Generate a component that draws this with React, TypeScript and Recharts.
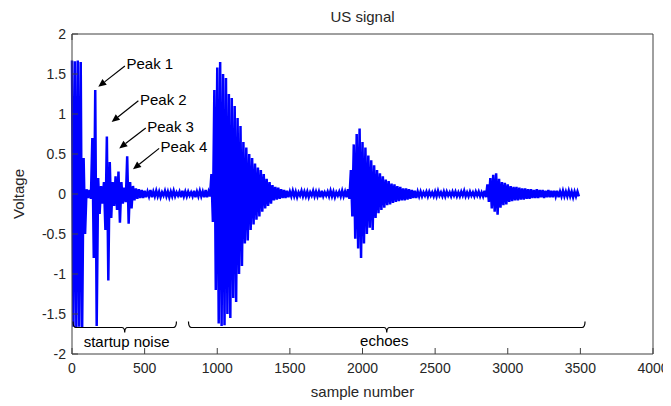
import React from 'react';
import { LineChart, Line, XAxis, YAxis, ReferenceLine, ReferenceDot } from 'recharts';

// ---- data ----
const xTicks = [0, 500, 1000, 1500, 2000, 2500, 3000, 3500, 4000];
const yTicks = [-2, -1.5, -1, -0.5, 0, 0.5, 1, 1.5, 2];
const binSamples = 20; // each bin: upper value at bin start, lower value half a bin later

const upper = [
  1.67, 1.66, 1.67, 1.65, 0.45, 0.06, 0.05, 0.70, 1.30, 0.20,
  0.10, 0.15, 0.72, 0.40, 0.15, 0.22, 0.28, 0.15, 0.08, 0.47,
  0.15, 0.10, 0.07, 0.06, 0.05, 0.04, 0.03, 0.05, 0.03, 0.04,
  0.03, 0.02, 0.04, 0.03, 0.03, 0.04, 0.02, 0.03, 0.04, 0.03,
  0.03, 0.02, 0.04, 0.03, 0.04, 0.03, 0.05, 0.03, 0.25, 1.30,
  1.58, 1.65, 1.50, 1.45, 1.25, 1.20, 1.10, 0.95, 0.85, 0.65,
  0.58, 0.50, 0.45, 0.38, 0.33, 0.30, 0.25, 0.19, 0.15, 0.11,
  0.09, 0.08, 0.06, 0.05, 0.04, 0.03, 0.04, 0.03, 0.02, 0.04,
  0.03, 0.03, 0.02, 0.04, 0.03, 0.03, 0.04, 0.02, 0.03, 0.04,
  0.03, 0.02, 0.03, 0.04, 0.03, 0.06, 0.30, 0.62, 0.75, 0.82,
  0.65, 0.58, 0.48, 0.42, 0.36, 0.30, 0.26, 0.22, 0.18, 0.16,
  0.13, 0.12, 0.10, 0.09, 0.07, 0.07, 0.06, 0.05, 0.04, 0.03,
  0.03, 0.02, 0.03, 0.03, 0.02, 0.03, 0.04, 0.02, 0.03, 0.03,
  0.02, 0.03, 0.03, 0.02, 0.03, 0.04, 0.02, 0.03, 0.02, 0.03,
  0.03, 0.02, 0.04, 0.12, 0.20, 0.24, 0.26, 0.19, 0.15, 0.14,
  0.12, 0.10, 0.09, 0.09, 0.08, 0.07, 0.07, 0.06, 0.06, 0.05,
  0.06, 0.05, 0.05, 0.04, 0.05, 0.04, 0.04, 0.04, 0.03, 0.04,
  0.03, 0.04, 0.03, 0.03, 0.03,
];

const lower = [
  -1.66, -1.67, -1.66, -1.67, -0.50, -0.05, -0.06, -0.80, -1.65, -0.25,
  -0.12, -0.45, -1.08, -0.30, -0.15, -0.20, -0.36, -0.12, -0.10, -0.37,
  -0.18, -0.08, -0.06, -0.05, -0.05, -0.04, -0.03, -0.04, -0.03, -0.03,
  -0.04, -0.02, -0.03, -0.04, -0.03, -0.03, -0.02, -0.04, -0.03, -0.03,
  -0.02, -0.03, -0.04, -0.03, -0.03, -0.04, -0.04, -0.03, -0.35, -1.20,
  -1.62, -1.65, -1.64, -1.50, -1.55, -1.30, -1.35, -1.00, -0.90, -0.62,
  -0.58, -0.45, -0.38, -0.32, -0.28, -0.22, -0.18, -0.15, -0.12, -0.08,
  -0.07, -0.06, -0.05, -0.05, -0.04, -0.03, -0.03, -0.04, -0.02, -0.03,
  -0.03, -0.04, -0.02, -0.03, -0.03, -0.04, -0.03, -0.02, -0.03, -0.03,
  -0.04, -0.02, -0.03, -0.03, -0.04, -0.06, -0.28, -0.56, -0.68, -0.80,
  -0.62, -0.50, -0.42, -0.45, -0.30, -0.24, -0.20, -0.17, -0.14, -0.13,
  -0.11, -0.10, -0.09, -0.08, -0.08, -0.07, -0.06, -0.05, -0.05, -0.03,
  -0.03, -0.02, -0.03, -0.02, -0.03, -0.03, -0.02, -0.03, -0.03, -0.02,
  -0.03, -0.02, -0.03, -0.03, -0.02, -0.03, -0.03, -0.02, -0.03, -0.02,
  -0.03, -0.03, -0.04, -0.10, -0.18, -0.22, -0.26, -0.17, -0.14, -0.13,
  -0.10, -0.09, -0.08, -0.08, -0.07, -0.07, -0.06, -0.06, -0.05, -0.05,
  -0.05, -0.04, -0.05, -0.04, -0.04, -0.04, -0.03, -0.04, -0.03, -0.03,
  -0.03, -0.03, -0.04, -0.03, -0.03,
];

// annotations (data coordinates: sample, voltage)
const peakLabels = ['Peak 1', 'Peak 2', 'Peak 3', 'Peak 4'];
const peakTextAt = [[375, 1.63], [468, 1.18], [518, 0.84], [610, 0.59]];
const peakArrowFrom = [[364, 1.6], [457, 1.165], [508, 0.825], [600, 0.57]];
const peakArrowTo = [[181, 1.34], [273, 0.9], [325, 0.57], [420, 0.31]];

const braceLabels = ['startup noise', 'echoes'];
const braceFrom = [7, 802];
const braceTo = [719, 3532];
const braceLevel = -1.669;
const braceTextAt = [[376, -1.845], [2150, -1.83]];

const signal = upper.flatMap((u, i) => [
  { s: i * binSamples, v: u },
  { s: i * binSamples + binSamples / 2, v: lower[i] },
]);

const FONT = '"Liberation Sans", Arial, Helvetica, sans-serif';
const TXT = '#262626';
const FRAME = '#404040';
const TL = 6;

const BottomTick = (p: any) => (
  <g>
    <line x1={p.x} y1={p.y} x2={p.x} y2={p.y - TL} stroke={FRAME} strokeWidth={1} />
    <text x={p.x} y={p.y + 19} textAnchor="middle" fontSize={14} fontFamily={FONT} fill={TXT}>
      {p.payload.value}
    </text>
  </g>
);
const TopTick = (p: any) => (
  <line x1={p.x} y1={p.y} x2={p.x} y2={p.y + TL} stroke={FRAME} strokeWidth={1} />
);
const LeftTick = (p: any) => (
  <g>
    <line x1={p.x} y1={p.y} x2={p.x + TL} y2={p.y} stroke={FRAME} strokeWidth={1} />
    <text x={p.x - 6} y={p.y} dy="0.36em" textAnchor="end" fontSize={14} fontFamily={FONT} fill={TXT}>
      {p.payload.value}
    </text>
  </g>
);
const RightTick = (p: any) => (
  <line x1={p.x} y1={p.y} x2={p.x - TL} y2={p.y} stroke={FRAME} strokeWidth={1} />
);

const Arrow = (p: any) => {
  const { x1, y1, x2, y2 } = p;
  const dx = x2 - x1;
  const dy = y2 - y1;
  const len = Math.hypot(dx, dy) || 1;
  const ux = dx / len;
  const uy = dy / len;
  const L = 8;
  const W = 3.5;
  const bx = x2 - ux * L;
  const by = y2 - uy * L;
  return (
    <g>
      <line x1={x1} y1={y1} x2={bx} y2={by} stroke="#000" strokeWidth={1.2} />
      <polygon
        points={`${x2},${y2} ${bx - uy * W},${by + ux * W} ${bx + uy * W},${by - ux * W}`}
        fill="#000"
      />
    </g>
  );
};

const Brace = (p: any) => {
  const { x1, x2, y1 } = p;
  const xc = (x1 + x2) / 2;
  const h = 6;
  const r = 3;
  const d = `M${x1},${y1 - h} Q${x1},${y1} ${x1 + r},${y1} L${xc - r},${y1} Q${xc},${y1} ${xc},${y1 + 5} Q${xc},${y1} ${xc + r},${y1} L${x2 - r},${y1} Q${x2},${y1} ${x2},${y1 - h}`;
  return <path d={d} stroke="#000" strokeWidth={1.2} fill="none" />;
};

const makeText = (label: string, anchor: string) => (p: any) => (
  <text x={p.cx} y={p.cy} dy="0.36em" textAnchor={anchor} fontSize={15} fontFamily={FONT} fill="#000">
    {label}
  </text>
);

export default function App() {
  return (
    <div style={{ width: 663, height: 398 }}>
      <LineChart
        width={663}
        height={398}
        data={signal}
        margin={{ top: 25, right: 17, bottom: 0, left: 4 }}
      >
        <XAxis
          dataKey="s"
          type="number"
          domain={[0, 4000]}
          ticks={xTicks}
          interval={0}
          height={52}
          tickSize={0}
          tickMargin={0}
          tickLine={false}
          axisLine={{ stroke: FRAME }}
          tick={(p: any) => <BottomTick {...p} />}
          label={{
            content: (lp: any) => {
              const vb = lp.viewBox;
              return (
                <text x={vb.x + vb.width / 2} y={vb.y + 43} textAnchor="middle" fontSize={15} fontFamily={FONT} fill={TXT}>
                  sample number
                </text>
              );
            },
          }}
        />
        <XAxis
          xAxisId="top"
          orientation="top"
          type="number"
          domain={[0, 4000]}
          ticks={xTicks}
          interval={0}
          height={1}
          tickSize={0}
          tickMargin={0}
          tickLine={false}
          axisLine={{ stroke: FRAME }}
          tick={(p: any) => <TopTick {...p} />}
          label={{
            content: (lp: any) => {
              const vb = lp.viewBox;
              return (
                <text x={vb.x + vb.width / 2} y={14} textAnchor="middle" fontSize={15} fontFamily={FONT} fill={TXT}>
                  US signal
                </text>
              );
            },
          }}
        />
        <YAxis
          type="number"
          domain={[-2, 2]}
          ticks={yTicks}
          interval={0}
          width={60}
          tickSize={0}
          tickMargin={0}
          tickLine={false}
          axisLine={{ stroke: FRAME }}
          tick={(p: any) => <LeftTick {...p} />}
          label={{
            content: (lp: any) => {
              const vb = lp.viewBox;
              const cx = 11;
              const cy = vb.y + vb.height / 2;
              return (
                <text x={cx} y={cy} dy="0.36em" textAnchor="middle" fontSize={15} fontFamily={FONT} fill={TXT} transform={`rotate(-90 ${cx} ${cy})`}>
                  Voltage
                </text>
              );
            },
          }}
        />
        <YAxis
          yAxisId="right"
          orientation="right"
          type="number"
          domain={[-2, 2]}
          ticks={yTicks}
          interval={0}
          width={1}
          tickSize={0}
          tickMargin={0}
          tickLine={false}
          axisLine={{ stroke: FRAME }}
          tick={(p: any) => <RightTick {...p} />}
        />
        <Line
          dataKey="v"
          type="linear"
          stroke="#0000ff"
          strokeWidth={2.5}
          strokeLinejoin="miter"
          dot={false}
          activeDot={false}
          isAnimationActive={false}
        />
        {peakLabels.map((lab, i) => (
          <ReferenceLine
            key={'a' + i}
            segment={[
              { x: peakArrowFrom[i][0], y: peakArrowFrom[i][1] },
              { x: peakArrowTo[i][0], y: peakArrowTo[i][1] },
            ]}
            shape={(p: any) => <Arrow {...p} />}
          />
        ))}
        {peakLabels.map((lab, i) => (
          <ReferenceDot
            key={'t' + i}
            x={peakTextAt[i][0]}
            y={peakTextAt[i][1]}
            r={0}
            shape={makeText(lab, 'start')}
          />
        ))}
        {braceLabels.map((lab, i) => (
          <ReferenceLine
            key={'b' + i}
            segment={[
              { x: braceFrom[i], y: braceLevel },
              { x: braceTo[i], y: braceLevel },
            ]}
            shape={(p: any) => <Brace {...p} />}
          />
        ))}
        {braceLabels.map((lab, i) => (
          <ReferenceDot
            key={'bt' + i}
            x={braceTextAt[i][0]}
            y={braceTextAt[i][1]}
            r={0}
            shape={makeText(lab, 'middle')}
          />
        ))}
      </LineChart>
    </div>
  );
}
